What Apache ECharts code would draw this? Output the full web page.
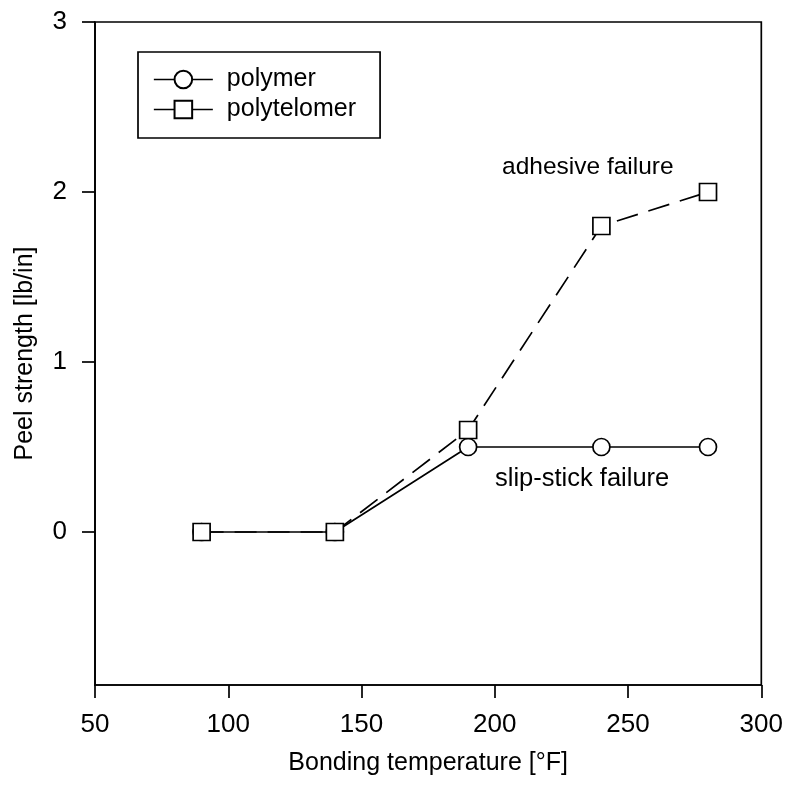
<!DOCTYPE html>
<html>
<head>
<meta charset="utf-8">
<script src="https://cdn.jsdelivr.net/npm/echarts@6/dist/echarts.min.js"></script>
<style>
  html, body { margin: 0; padding: 0; background: #fff; }
  #chart { width: 786px; height: 786px; }
</style>
</head>
<body>
<div id="chart"></div>
<script>
// Bonding temperatures [°F]
const temperatures = [90, 140, 190, 240, 280];
// Peel strength [lb/in]
const polymer = [0, 0, 0.5, 0.5, 0.5];
const polytelomer = [0, 0, 0.6, 1.8, 2.0];
// Labelled ticks on the strength axis
const yTicks = [0, 1, 2, 3];

const FONT = '"Liberation Sans", Arial, sans-serif';
const pairs = (xs, ys) => xs.map((x, i) => [x, ys[i]]);

const chart = echarts.init(document.getElementById('chart'), null, { renderer: 'canvas' });

const markerStyle = { color: '#fff', borderColor: '#000', borderWidth: 1.7 };
const axisLineStyle = { color: '#000', width: 1.7 };

chart.setOption({
  animation: false,
  backgroundColor: '#fff',
  textStyle: { fontFamily: FONT, color: '#000' },
  grid: {
    left: 95, right: 23, top: 22, bottom: 101,
    show: true, borderColor: '#000', borderWidth: 1.7, backgroundColor: 'transparent'
  },
  legend: {
    left: 138, top: 52,
    orient: 'vertical',
    padding: [15, 24, 16, 15],
    borderColor: '#000', borderWidth: 1.7,
    itemWidth: 59, itemHeight: 22, itemGap: 5,
    textStyle: { fontFamily: FONT, fontSize: 25, color: '#000', padding: [0, 0, 0, 9] },
    lineStyle: { type: 'solid', width: 1.7, color: '#000' },
    data: ['polymer', 'polytelomer']
  },
  xAxis: {
    type: 'value', min: 50, max: 300, interval: 50,
    name: 'Bonding temperature [°F]', nameLocation: 'middle', nameGap: 66,
    nameTextStyle: { fontFamily: FONT, fontSize: 25, color: '#000' },
    axisLine: { show: true, onZero: false, lineStyle: axisLineStyle },
    axisTick: { show: true, inside: false, length: 13, lineStyle: axisLineStyle },
    axisLabel: { fontFamily: FONT, fontSize: 26, color: '#000', margin: 27 },
    splitLine: { show: false }
  },
  yAxis: {
    type: 'value', min: -0.9, max: 3,
    name: 'Peel strength [lb/in]', nameLocation: 'middle', nameGap: 57,
    nameTextStyle: { fontFamily: FONT, fontSize: 25, color: '#000' },
    axisLine: { show: true, onZero: false, lineStyle: axisLineStyle },
    axisTick: { show: true, inside: false, length: 13, customValues: yTicks, lineStyle: axisLineStyle },
    axisLabel: { fontFamily: FONT, fontSize: 26, color: '#000', margin: 28, customValues: yTicks },
    splitLine: { show: false }
  },
  series: [
    {
      name: 'polymer', type: 'line',
      data: pairs(temperatures, polymer),
      symbol: 'circle', symbolSize: 17,
      itemStyle: markerStyle,
      lineStyle: { color: '#000', width: 1.7, type: 'solid' },
      z: 2
    },
    {
      name: 'polytelomer', type: 'line',
      data: pairs(temperatures, polytelomer),
      symbol: 'rect', symbolSize: 17,
      itemStyle: markerStyle,
      lineStyle: { color: '#000', width: 1.7, type: [22, 11] },
      z: 3
    }
  ],
  graphic: [
    {
      type: 'text', left: 502, top: 155,
      style: { text: 'adhesive failure', font: '24.5px ' + FONT, fill: '#000' }
    },
    {
      type: 'text', left: 495, top: 466,
      style: { text: 'slip-stick failure', font: '25.5px ' + FONT, fill: '#000' }
    }
  ]
});
</script>
</body>
</html>
